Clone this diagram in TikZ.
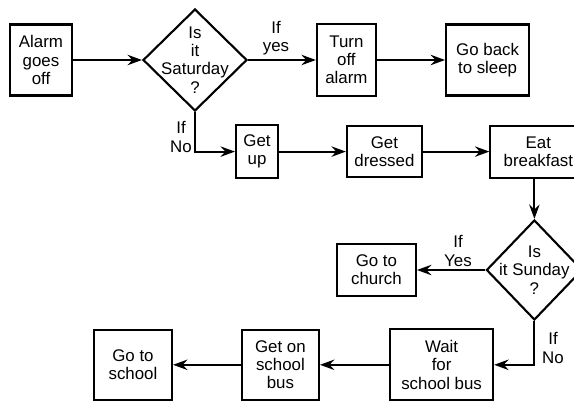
\documentclass[tikz,border=0pt]{standalone}
\usepackage{fontspec}
\setmainfont{Liberation Sans}
\usetikzlibrary{positioning,arrows.meta,shapes.geometric}
\tikzset{
  passo/.style={draw, line width=1.5pt, align=center, inner sep=0pt,
                font=\fontsize{12}{13}\selectfont},
  teste/.style={draw, diamond, line width=1.5pt, inner sep=0pt, aspect=1},
  testetexto/.style={align=center, font=\fontsize{12}{13}\selectfont},
  rotulo/.style={align=center, font=\fontsize{12}{13}\selectfont},
  seta/.style={-{Stealth[length=3.6mm, width=2.6mm, inset=1.2mm]}, line width=1.5pt},
}
\begin{document}
\begin{tikzpicture}
        \useasboundingbox (0,0) rectangle (14.35,-10.05);
        % ---------------- linha de cima ----------------
        \node[passo, minimum width=1.55cm, minimum height=1.775cm] (alarme) at (1.025,-1.5) {Alarm\\goes\\off};
        \node[teste, minimum width=2.6cm, minimum height=2.55cm,
              label={[testetexto]center:Is\\it\\Saturday\\?}] (sabado) at (4.875,-1.5) {};
        \node[passo, minimum width=1.475cm, minimum height=1.8cm] (desliga) at (8.66,-1.5) {Turn\\off\\alarm};
        \node[passo, minimum width=2.075cm, minimum height=1.775cm] (dorme) at (12.19,-1.5) {Go back\\to sleep};
        % ---------------- linha do meio ----------------
        \node[passo, minimum width=1.05cm, minimum height=1.325cm] (levanta) at (6.425,-3.79) {Get\\up};
        \node[passo, minimum width=1.875cm, minimum height=1.275cm] (veste) at (9.61,-3.79) {Get\\dressed};
        \node[passo, minimum width=2.4cm, minimum height=1.3cm] (cafe) at (13.46,-3.79) {Eat\\breakfast};
        \node[teste, minimum width=2.4cm, minimum height=2.5cm,
              label={[testetexto]center:Is\\it Sunday\\?}] (domingo) at (13.36,-6.75) {};
        \node[passo, minimum width=1.975cm, minimum height=1.3cm] (igreja) at (9.41,-6.75) {Go to\\church};
        % ---------------- linha de baixo ----------------
        \node[passo, minimum width=2.575cm, minimum height=1.775cm] (espera) at (11.04,-9.12) {Wait\\for\\school bus};
        \node[passo, minimum width=1.925cm, minimum height=1.75cm] (onibus) at (7.01,-9.12) {Get on\\school\\bus};
        \node[passo, minimum width=1.95cm, minimum height=1.75cm] (escola) at (3.325,-9.12) {Go to\\school};
        % ---------------- rotulos ----------------
        \node[rotulo] (simsab) at (6.9,-0.95) {If\\yes};
        \node[rotulo] (naosab) at (4.525,-3.425) {If\\No};
        \node[rotulo] (simdom) at (11.45,-6.275) {If\\Yes};
        \node[rotulo] (naodom) at (13.825,-8.7) {If\\No};
        % ---------------- setas ----------------
        \draw[seta] (alarme) -- (sabado);
        \draw[seta] (sabado.east) -- (desliga);
        \draw[seta] (desliga) -- (dorme);
        \draw[seta] (sabado.south) |- (levanta.west);
        \draw[seta] (levanta) -- (veste);
        \draw[seta] (veste) -- (cafe.west |- veste);
        \draw[seta] (cafe.south -| domingo) -- (domingo.north);
        \draw[seta] (domingo.west) -- (igreja);
        \draw[seta] (domingo.south) |- (espera.east);
        \draw[seta] (espera) -- (onibus);
        \draw[seta] (onibus) -- (escola);
    \end{tikzpicture}
\end{document}
